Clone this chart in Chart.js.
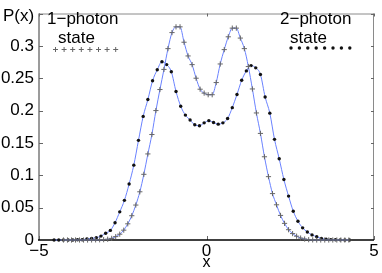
<!DOCTYPE html>
<html>
<head>
<meta charset="utf-8">
<script src="https://cdn.jsdelivr.net/npm/chart.js@4.4.0/dist/chart.umd.min.js"></script>
<style>
  html, body { margin: 0; padding: 0; background: #fff; }
</style>
</head>
<body>
<canvas id="grafico" width="382" height="273"></canvas>
<script>
// datos
const xTicks = [-5, 0, 5];
const yTicks = [0, 0.05, 0.1, 0.15, 0.2, 0.25, 0.3, 0.35];

const onePhotonX = [-4.27, -4.15, -4.03, -3.91, -3.79, -3.67, -3.55, -3.43, -3.31, -3.19,
  -3.07, -2.95, -2.83, -2.71, -2.59, -2.47, -2.35, -2.23, -2.11, -1.99,
  -1.87, -1.75, -1.63, -1.51, -1.39, -1.27, -1.15, -1.03, -0.91, -0.79,
  -0.67, -0.55, -0.43, -0.31, -0.19, -0.07, 0.05, 0.17, 0.29, 0.41,
  0.53, 0.65, 0.77, 0.89, 1.01, 1.13, 1.25, 1.37, 1.49, 1.61,
  1.73, 1.85, 1.97, 2.09, 2.21, 2.33, 2.45, 2.57, 2.69, 2.81,
  2.93, 3.05, 3.17, 3.29, 3.41, 3.53, 3.65, 3.77, 3.89, 4.01,
  4.13, 4.25];
const onePhotonP = [0, 0, 0, 0, 0, 0, 0, 0.0001, 0.0002, 0.0003,
  0.0005, 0.0012, 0.0025, 0.0052, 0.009, 0.0152, 0.025, 0.0375, 0.054, 0.0745,
  0.1015, 0.133, 0.163, 0.2, 0.2325, 0.2636, 0.2957, 0.3205, 0.3294, 0.3294,
  0.3056, 0.2844, 0.271, 0.25, 0.233, 0.227, 0.2245, 0.2245, 0.2433, 0.272,
  0.2942, 0.314, 0.3274, 0.3274, 0.312, 0.2957, 0.268, 0.2334, 0.1963, 0.1647,
  0.1286, 0.0979, 0.0717, 0.0544, 0.038, 0.0257, 0.0159, 0.0099, 0.0059, 0.003,
  0.0015, 0.0005, 0.0002, 0, 0, 0, 0, 0, 0, 0,
  0, 0];

const twoPhotonX = [-4.55, -4.41, -4.27, -4.13, -3.99, -3.85, -3.71, -3.57, -3.43, -3.29,
  -3.15, -3.01, -2.87, -2.73, -2.59, -2.45, -2.31, -2.17, -2.03, -1.89,
  -1.75, -1.61, -1.47, -1.33, -1.19, -1.05, -0.91, -0.77, -0.63, -0.49,
  -0.35, -0.21, -0.07, 0.07, 0.21, 0.35, 0.49, 0.63, 0.77, 0.91,
  1.05, 1.19, 1.33, 1.47, 1.61, 1.75, 1.89, 2.03, 2.17, 2.31,
  2.45, 2.59, 2.73, 2.87, 3.01, 3.15, 3.29, 3.43, 3.57, 3.71,
  3.85, 3.99, 4.13, 4.27];
const twoPhotonP = [0, 0, 0, 0, 0.0001, 0.0003, 0.0005, 0.0015, 0.0025, 0.0035,
  0.006, 0.0105, 0.0148, 0.0267, 0.0435, 0.0613, 0.0865, 0.1157, 0.154, 0.191,
  0.217, 0.246, 0.263, 0.2755, 0.271, 0.26, 0.2295, 0.2067, 0.193, 0.1855,
  0.178, 0.1766, 0.181, 0.1844, 0.1815, 0.179, 0.181, 0.1877, 0.2045, 0.2249,
  0.2468, 0.2613, 0.2695, 0.266, 0.2558, 0.221, 0.196, 0.1555, 0.1256, 0.0935,
  0.0678, 0.0445, 0.029, 0.0188, 0.0124, 0.0079, 0.005, 0.0025, 0.0012, 0.0006,
  0.0003, 0.0002, 0.0001, 0];

const FUENTE = "'Liberation Sans', Arial, Helvetica, sans-serif";
const AZUL = '#6a82ff';

const puntos = (xs, ys) => xs.map((x, i) => ({ x: x, y: ys[i] }));

// marco, marcas hacia dentro y textos
const marco = {
  id: 'marco',
  beforeDatasetsDraw(chart) {
    const { ctx, chartArea: a, scales: { x, y } } = chart;
    ctx.save();
    ctx.lineWidth = 1;
    ctx.strokeStyle = '#8a8a8a';
    ctx.beginPath();
    ctx.moveTo(a.left, a.top + 0.5); ctx.lineTo(a.right, a.top + 0.5);
    ctx.moveTo(a.right - 0.5, a.top); ctx.lineTo(a.right - 0.5, a.bottom);
    ctx.stroke();
    ctx.lineWidth = 1.5;
    ctx.strokeStyle = '#7a7a7a';
    ctx.beginPath();
    ctx.moveTo(a.left, a.top); ctx.lineTo(a.left, a.bottom);
    ctx.stroke();
    // marcas
    ctx.lineWidth = 1;
    ctx.strokeStyle = '#666';
    ctx.beginPath();
    yTicks.forEach(v => {
      if (v === 0) return;
      const py = Math.round(y.getPixelForValue(v)) + 0.5;
      ctx.moveTo(a.left, py); ctx.lineTo(a.left + 4, py);
      ctx.moveTo(a.right, py); ctx.lineTo(a.right - 3, py);
    });
    xTicks.forEach(v => {
      const px = Math.round(x.getPixelForValue(v)) + 0.5;
      ctx.moveTo(px, a.bottom); ctx.lineTo(px, a.bottom - 4);
      ctx.moveTo(px, a.top); ctx.lineTo(px, a.top + 3);
    });
    ctx.stroke();
    ctx.lineWidth = 1.5;
    ctx.strokeStyle = '#000';
    ctx.beginPath();
    ctx.moveTo(a.left - 1, a.bottom); ctx.lineTo(a.right, a.bottom);
    ctx.stroke();
    ctx.restore();
  },
  afterDraw(chart) {
    const { ctx } = chart;
    ctx.save();
    ctx.fillStyle = '#000';
    ctx.font = '17px ' + FUENTE;
    ctx.textBaseline = 'alphabetic';
    ctx.textAlign = 'left';
    ctx.fillText('P(x)', 3, 21);
    ctx.fillText('1\u2212photon', 47, 24);
    ctx.fillText('state', 58, 43);
    ctx.fillText('2\u2212photon', 280, 24);
    ctx.fillText('state', 290, 43);
    // muestras de la leyenda
    ctx.strokeStyle = '#666';
    ctx.lineWidth = 1;
    ctx.beginPath();
    for (let i = 0; i < 8; i++) {
      const cx = 55.5 + i * 8.6, cy = 49.5;
      ctx.moveTo(cx - 2.5, cy); ctx.lineTo(cx + 2.5, cy);
      ctx.moveTo(cx, cy - 2.5); ctx.lineTo(cx, cy + 2.5);
    }
    ctx.stroke();
    ctx.fillStyle = '#111';
    for (let i = 0; i < 8; i++) {
      ctx.beginPath();
      ctx.arc(291 + i * 8.4, 48, 1.7, 0, Math.PI * 2);
      ctx.fill();
    }
    ctx.restore();
  }
};

new Chart(document.getElementById('grafico'), {
  type: 'scatter',
  data: {
    datasets: [
      {
        label: '1-photon state',
        data: puntos(onePhotonX, onePhotonP),
        showLine: true,
        borderColor: AZUL,
        borderWidth: 1,
        cubicInterpolationMode: 'monotone',
        pointStyle: 'cross',
        pointRadius: 2.6,
        pointBorderWidth: 1,
        pointBorderColor: '#666',
        pointBackgroundColor: '#666',
        clip: false
      },
      {
        label: '2-photon state',
        data: puntos(twoPhotonX, twoPhotonP),
        showLine: true,
        borderColor: AZUL,
        borderWidth: 1,
        cubicInterpolationMode: 'monotone',
        pointStyle: 'circle',
        pointRadius: 1.7,
        pointBorderWidth: 0,
        pointBorderColor: '#111',
        pointBackgroundColor: '#111',
        clip: false
      }
    ]
  },
  options: {
    responsive: false,
    animation: false,
    events: [],
    layout: { padding: { top: 4, right: 8, left: 0, bottom: 0 } },
    plugins: { legend: { display: false }, tooltip: { enabled: false } },
    scales: {
      x: {
        type: 'linear',
        min: -5, max: 5,
        afterBuildTicks: s => { s.ticks = xTicks.map(v => ({ value: v })); },
        afterFit: s => { s.height = 33; },
        grid: { display: false, drawTicks: false },
        border: { display: false },
        ticks: {
          padding: 3,
          color: '#000',
          maxRotation: 0,
          autoSkip: false,
          font: { family: FUENTE, size: 17, lineHeight: 1 },
          callback: v => String(v).replace('-', '\u2212')
        },
        title: {
          display: true,
          text: 'x',
          color: '#000',
          font: { family: FUENTE, size: 16, lineHeight: 1 },
          padding: { top: 0, bottom: 2 }
        }
      },
      y: {
        type: 'linear',
        min: 0, max: 0.35,
        afterBuildTicks: s => { s.ticks = yTicks.map(v => ({ value: v })); },
        afterFit: s => { s.width = 39; },
        grid: { display: false, drawTicks: false },
        border: { display: false },
        ticks: {
          padding: 5,
          color: '#000',
          autoSkip: false,
          font: { family: FUENTE, size: 17, lineHeight: 1 },
          callback: v => (v > 0.34 ? '' : String(v))
        }
      }
    }
  },
  plugins: [marco]
});
</script>
</body>
</html>
